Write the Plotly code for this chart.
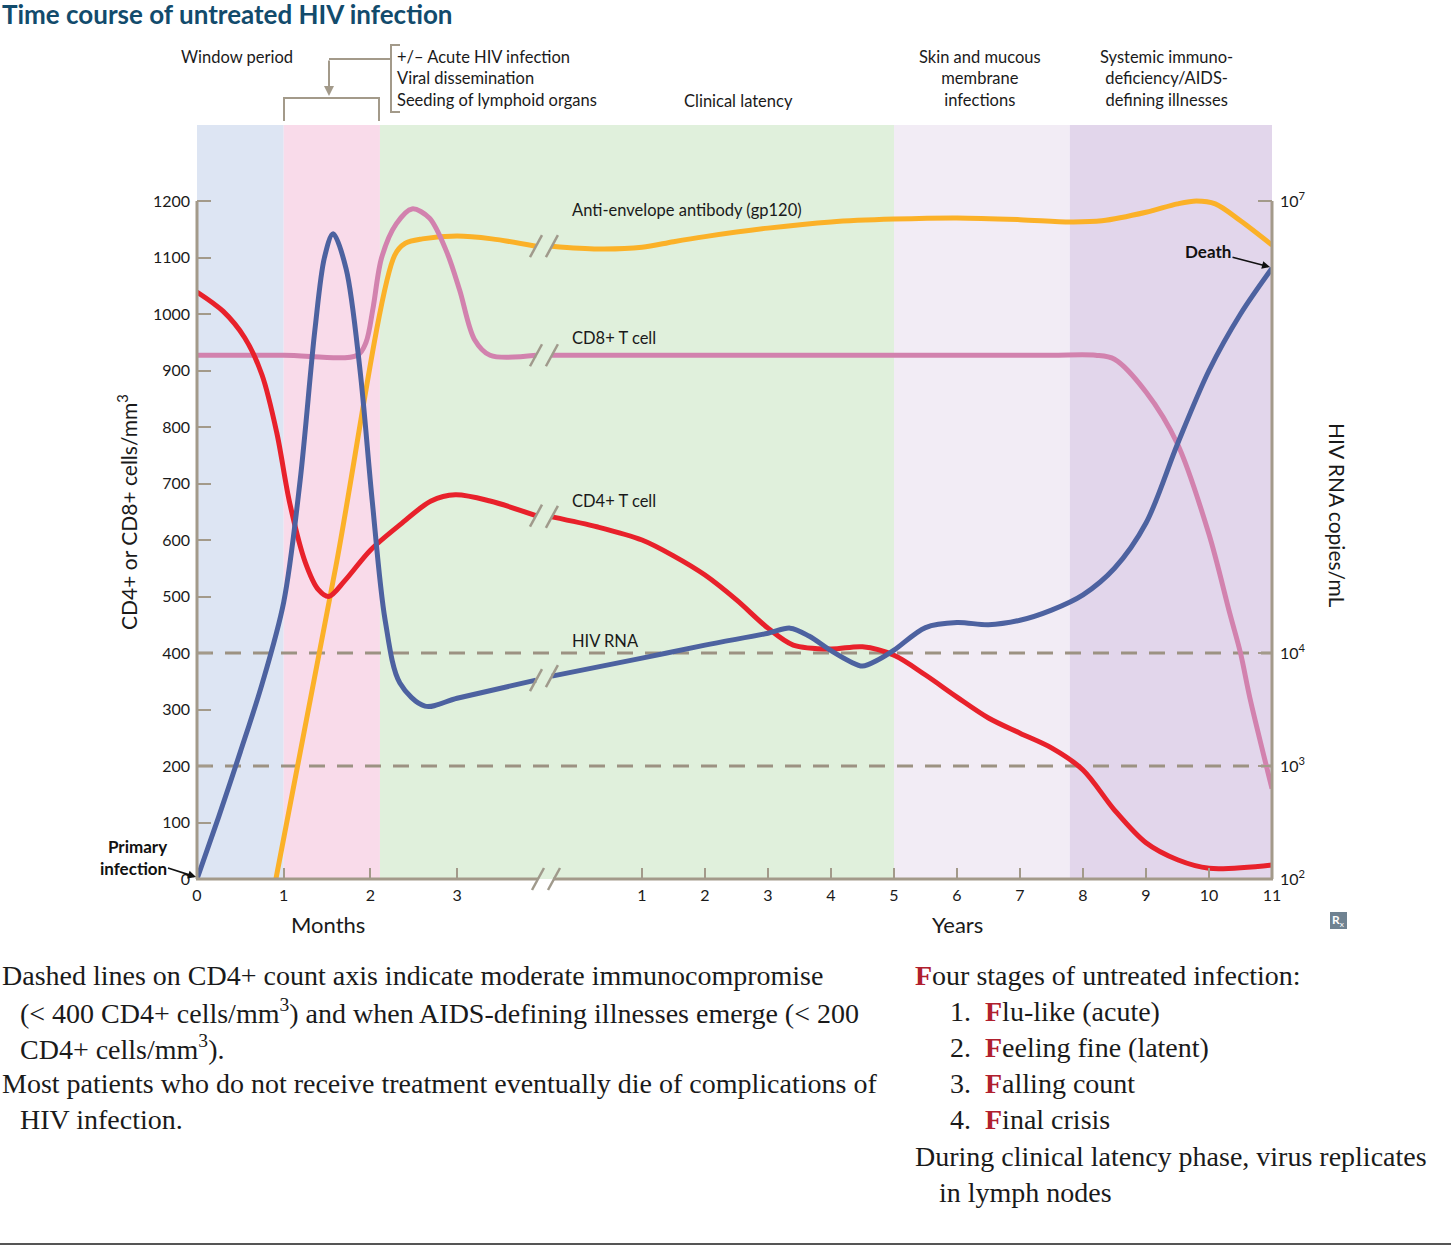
import plotly.graph_objects as go

# ---------------- data ----------------
month_ticks = [0, 1, 2, 3]
year_ticks = [1, 2, 3, 4, 5, 6, 7, 8, 9, 10, 11]
cd_ticks = [0, 100, 200, 300, 400, 500, 600, 700, 800, 900, 1000, 1100, 1200]
rna_tick_vals = [0, 200, 400, 1200]
rna_tick_text = ["10<sup>2</sup>", "10<sup>3</sup>", "10<sup>4</sup>", "10<sup>7</sup>"]

cd4_m_t = [0, 0.3, 0.55, 0.75, 0.92, 1.07, 1.25, 1.4, 1.52, 1.71, 2.0, 2.35, 2.7, 2.98, 3.38, 3.91]
cd4_m_v = [1039, 1005, 958, 892, 790, 665, 560, 512, 500, 529, 582, 628, 669, 680, 669, 643]
cd4_y_t = [-0.43, 0.3, 1, 1.5, 2, 2.5, 3, 3.4, 4, 4.5, 5, 5.5, 6, 6.5, 7, 7.5, 8, 8.5, 9, 9.5, 10, 11]
cd4_y_v = [641, 623, 600, 572, 538, 494, 444, 414, 407, 411, 396, 361, 322, 285, 258, 232, 193, 122, 64, 34, 19, 25]

rna_m_t = [0, 0.25, 0.5, 0.75, 1.0, 1.19, 1.36, 1.47, 1.57, 1.72, 1.88, 2.02, 2.17, 2.34, 2.63, 3.0, 3.91]
rna_m_v = [0, 110, 225, 345, 490, 706, 972, 1100, 1142, 1080, 901, 671, 458, 347, 306, 320, 352]
rna_y_t = [-0.43, 1, 2, 3, 3.35, 3.65, 4, 4.3, 4.5, 4.75, 5, 5.5, 6, 6.5, 7, 7.5, 8, 8.5, 9, 9.5, 10, 10.5, 11]
rna_y_v = [359, 391, 414, 435, 444, 430, 404, 385, 377, 388, 405, 445, 454, 450, 458, 476, 503, 550, 630, 770, 900, 1000, 1081]

ab_m_t = [0.91, 1.6, 2.28, 2.4, 2.6, 3.0, 3.4, 3.91]
ab_m_v = [0, 552, 1104, 1125, 1133, 1138, 1133, 1120]
ab_y_t = [-0.43, 0.3, 1, 1.5, 2, 3, 4, 5, 6, 7, 7.8, 8.3, 9, 9.5, 9.8, 10.1, 10.5, 11]
ab_y_v = [1120, 1115, 1118, 1128, 1137, 1152, 1163, 1168, 1170, 1167, 1163, 1165, 1180, 1195, 1200, 1195, 1165, 1122]

cd8_m_t = [0, 1.0, 1.85, 1.95, 2.03, 2.13, 2.3, 2.48, 2.68, 2.88, 3.03, 3.2, 3.38, 3.91]
cd8_m_v = [927, 927, 927, 950, 1010, 1100, 1160, 1186, 1170, 1110, 1042, 955, 927, 927]
cd8_y_t = [-0.43, 2, 4, 6, 7.5, 8.2, 8.5, 9, 9.5, 10, 10.33, 10.5, 10.65, 11]
cd8_y_v = [927, 927, 927, 927, 927, 927, 920, 862, 770, 610, 470, 400, 320, 160]

# ---------------- geometry helpers ----------------
W, H = 1451, 1246
PX0, PX1, PY0, PYT = 197, 1272, 879, 125
PW, PH = PX1 - PX0, PY0 - PYT
MONTH_PX = 86.7
YEAR_PX = 63.0
Y_PX = 0.565
YMAX = PH / Y_PX


def xm(m):
    return m * MONTH_PX


def xy(yr):
    return 445 + (yr - 1) * YEAR_PX


def px(p):
    return (p - PX0) / PW


def py(p):
    return (PY0 - p) / PH


AX = "#a39a8a"
RED = "#e8212b"
BLUE = "#4d62a0"
YEL = "#fbb128"
PINK = "#d282ae"

fig = go.Figure()

series = [
    (ab_m_t, ab_m_v, ab_y_t, ab_y_v, YEL),
    (cd8_m_t, cd8_m_v, cd8_y_t, cd8_y_v, PINK),
    (cd4_m_t, cd4_m_v, cd4_y_t, cd4_y_v, RED),
    (rna_m_t, rna_m_v, rna_y_t, rna_y_v, BLUE),
]
for mt, mv, yt, yv, col in series:
    fig.add_trace(go.Scatter(x=[xm(t) for t in mt], y=mv, mode="lines",
                             line=dict(color=col, width=5, shape="spline", smoothing=0.9),
                             hoverinfo="skip", showlegend=False))
    fig.add_trace(go.Scatter(x=[xy(t) for t in yt], y=yv, mode="lines",
                             line=dict(color=col, width=5, shape="spline", smoothing=0.9),
                             hoverinfo="skip", showlegend=False))

# invisible trace for the right axis
fig.add_trace(go.Scatter(x=[0], y=[0], yaxis="y2", mode="lines", line=dict(width=0),
                         hoverinfo="skip", showlegend=False))

shapes = []
# background bands
bands = [
    (xm(0), xm(1), "#dde5f3"),
    (xm(1), xm(2.11), "#f9dbea"),
    (xm(2.11), xy(5), "#e0f0dc"),
    (xy(5), xy(7.79), "#f2ecf5"),
    (xy(7.79), xy(11), "#e2d6eb"),
]
for a, b, c in bands:
    shapes.append(dict(type="rect", xref="x", yref="paper", x0=a, x1=b, y0=0, y1=1,
                       fillcolor=c, line=dict(width=0), layer="below"))
# dashed threshold lines
for v in [400, 200]:
    shapes.append(dict(type="line", xref="x", yref="y", x0=0, x1=PW, y0=v, y1=v,
                       line=dict(color="#9c9282", width=3, dash="16px,12px"), layer="below"))
# axis lines
shapes.append(dict(type="line", xref="paper", yref="y", x0=0, x1=0, y0=0, y1=1200,
                   line=dict(color=AX, width=3)))
shapes.append(dict(type="line", xref="paper", yref="y", x0=1, x1=1, y0=0, y1=1200,
                   line=dict(color=AX, width=3)))
shapes.append(dict(type="line", xref="paper", yref="paper", x0=px(PX0 - 1), x1=px(538), y0=0, y1=0,
                   line=dict(color=AX, width=3)))
shapes.append(dict(type="line", xref="paper", yref="paper", x0=px(553), x1=px(PX1 + 1), y0=0, y1=0,
                   line=dict(color=AX, width=3)))

# break slashes
def slash(cx, cy):
    shapes.append(dict(type="line", xref="paper", yref="paper",
                       x0=px(cx - 6), x1=px(cx + 6), y0=py(cy + 11), y1=py(cy - 11),
                       line=dict(color="#a09a8c", width=2.5)))

for mt, mv, yt, yv, col in series:
    slash(xm(mt[-1]) + PX0, PY0 - mv[-1] * Y_PX)
    slash(xy(yt[0]) + PX0, PY0 - yv[0] * Y_PX)
slash(538, 879)
slash(554, 879)

# brackets at top
BR = "#a39a8a"
def seg(x0, y0, x1, y1):
    shapes.append(dict(type="line", xref="paper", yref="paper", x0=px(x0), x1=px(x1),
                       y0=py(y0), y1=py(y1), line=dict(color=BR, width=2)))

seg(284, 98, 379, 98)
seg(284, 97, 284, 121)
seg(379, 97, 379, 121)
seg(329, 59, 391, 59)
seg(391, 45, 391, 112)
seg(390, 45, 400, 45)
seg(390, 112, 400, 112)

# Rx icon
shapes.append(dict(type="rect", xref="paper", yref="paper", x0=px(1330), x1=px(1347),
                   y0=py(929), y1=py(912), fillcolor="#6f8291", line=dict(width=0)))
# bottom rule
shapes.append(dict(type="line", xref="paper", yref="paper", x0=px(0), x1=px(W), y0=py(1244), y1=py(1244),
                   line=dict(color="#555555", width=2)))

SANS = "Lato"
SERIF = "Liberation Serif"
ann = []


def text(t, x, y, size=16.5, anchor="left", color="#1a1a1a", family=SANS, align=None, angle=0):
    ann.append(dict(text=t, xref="paper", yref="paper", x=px(x), y=py(y), xanchor=anchor,
                    yanchor="middle", showarrow=False, textangle=angle,
                    align=align or anchor if anchor != "center" else "center",
                    font=dict(family=family, size=size, color=color)))

text("<b>Time course of untreated HIV infection</b>", 0, 14, size=26, color="#124b6c")
text("Window period", 237, 57, anchor="center")
text("+/\u2013 Acute HIV infection<br>Viral dissemination<br>Seeding of lymphoid organs", 395, 79)
text("Clinical latency", 738, 101, anchor="center")
text("Skin and mucous<br>membrane<br>infections", 980, 79, anchor="center")
text("Systemic immuno-<br>deficiency/AIDS-<br>defining illnesses", 1166, 79, anchor="center")

text("Anti-envelope antibody (gp120)", 570, 210)
text("CD8+ T cell", 570, 338)
text("CD4+ T cell", 570, 501)
text("HIV RNA", 570, 641)

text("Months", 328, 924, size=22, anchor="center")
text("Years", 957, 924, size=22, anchor="center")
text("CD4+ or CD8+ cells/mm<sup>3</sup>", 127, 512, size=21, anchor="center", angle=-90)
text("HIV RNA copies/mL", 1338, 515, size=21, anchor="center", angle=90)
text("<b>R</b><sub>x</sub>", 1338, 920, size=12, anchor="center", color="white")

# arrow annotations
ann.append(dict(text="", xref="paper", yref="paper", x=px(329), y=py(96), ax=0, ay=-37,
                showarrow=True, arrowhead=2, arrowsize=1, arrowwidth=2, arrowcolor=BR))
ann.append(dict(text="<b>Death</b>", xref="paper", yref="paper", x=px(1270), y=py(267),
                ax=-62, ay=-16, showarrow=True, arrowhead=2, arrowsize=1, arrowwidth=1.6,
                arrowcolor="#111", font=dict(family=SANS, size=17, color="#111")))
ann.append(dict(text="<b>Primary<br>infection</b>", xref="paper", yref="paper", x=px(196), y=py(877),
                ax=-63, ay=-20, showarrow=True, arrowhead=2, arrowsize=1, arrowwidth=1.6, align="right",
                arrowcolor="#111", font=dict(family=SANS, size=17, color="#111")))

# bottom text
FR = "#b0202e"
left_lines = [
    (0, 975, "Dashed lines on CD4+ count axis indicate moderate immunocompromise"),
    (18, 1011, "(&lt; 400 CD4+ cells/mm<sup>3</sup>) and when AIDS-defining illnesses emerge (&lt; 200"),
    (18, 1047, "CD4+ cells/mm<sup>3</sup>)."),
    (0, 1083, "Most patients who do not receive treatment eventually die of complications of"),
    (18, 1119, "HIV infection."),
]
for x, y, t in left_lines:
    text(t, x, y, size=28, family=SERIF)

F = "<span style='color:%s'><b>F</b></span>" % FR
RS = 28
text(F + "our stages of untreated infection:", 913, 975, size=RS, family=SERIF)
items = ["lu-like (acute)", "eeling fine (latent)", "alling count", "inal crisis"]
for i, it in enumerate(items):
    yy = 1011 + 36 * i
    text("%d." % (i + 1), 948, yy, size=RS, family=SERIF)
    text(F + it, 983, yy, size=RS, family=SERIF)
text("During clinical latency phase, virus replicates", 913, 1156, size=RS, family=SERIF)
text("in lymph nodes", 937, 1192, size=RS, family=SERIF)

fig.update_layout(
    width=W, height=H,
    margin=dict(l=PX0, r=W - PX1, t=PYT, b=H - PY0, pad=0),
    paper_bgcolor="white", plot_bgcolor="white",
    shapes=shapes, annotations=ann,
    xaxis=dict(range=[0, PW], tickvals=[xm(m) for m in month_ticks] + [xy(y) for y in year_ticks],
               ticktext=[str(m) for m in month_ticks] + [str(y) for y in year_ticks],
               ticks="inside", ticklen=11, tickwidth=2, tickcolor=AX, ticklabelstandoff=5,
               showline=False, showgrid=False, zeroline=False,
               tickfont=dict(family=SANS, size=16, color="#1a1a1a")),
    yaxis=dict(range=[0, YMAX], tickvals=cd_ticks, ticktext=[str(v) for v in cd_ticks],
               ticks="inside", ticklen=14, tickwidth=2, tickcolor=AX, ticklabelstandoff=6,
               showline=False, showgrid=False, zeroline=False,
               tickfont=dict(family=SANS, size=16, color="#1a1a1a")),
    yaxis2=dict(range=[0, YMAX], overlaying="y", side="right", tickvals=rna_tick_vals,
                ticktext=rna_tick_text, ticks="inside", ticklen=14, tickwidth=2, tickcolor=AX,
                ticklabelstandoff=7,
                showline=False, showgrid=False, zeroline=False,
                tickfont=dict(family=SANS, size=16, color="#1a1a1a")),
)

fig.write_html("out.html")
